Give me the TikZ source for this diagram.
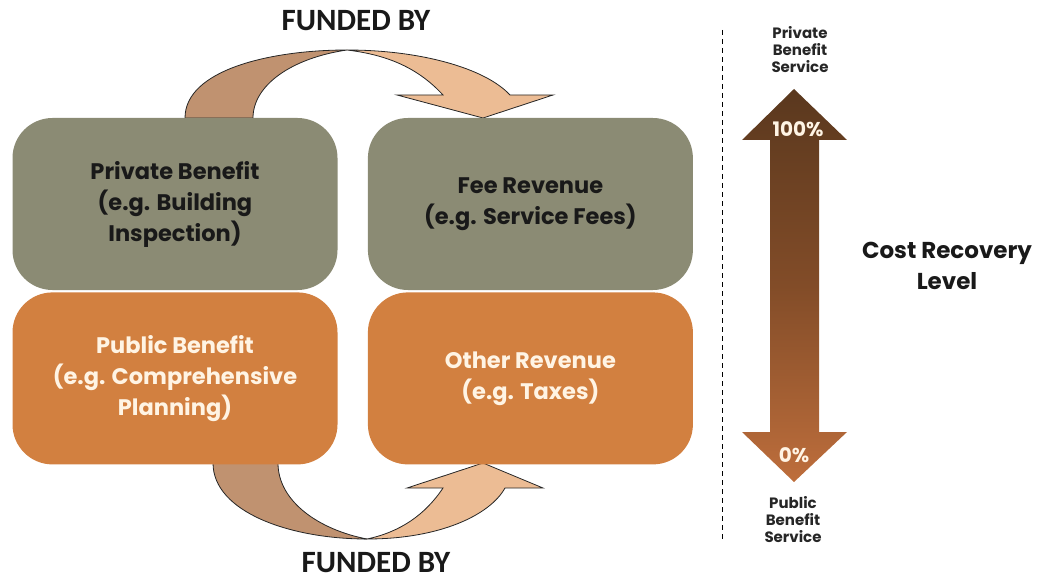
\documentclass[tikz,border=0pt]{standalone}
\usepackage{fontspec}
\setmainfont{Poppins}
\newfontfamily\headfont{Carlito}
\usetikzlibrary{positioning}

\definecolor{olivegray}{RGB}{139,139,116}
\definecolor{rustorange}{RGB}{210,128,64}
\definecolor{tandark}{RGB}{192,146,112}
\definecolor{tanlight}{RGB}{236,188,148}
\definecolor{darkbrown}{RGB}{90,56,30}
\definecolor{midbrown}{RGB}{130,76,40}
\definecolor{lightbrown}{RGB}{190,110,60}
\definecolor{cream}{RGB}{255,244,228}

\tikzset{
  benefit/.style={rounded corners=40pt, minimum width=325pt, minimum height=172pt, inner sep=0pt,
    align=center, font=\bfseries\fontsize{22.5}{31}\selectfont},
  privbox/.style={benefit, fill=olivegray, text=black!90},
  pubbox/.style={benefit, fill=rustorange, text=cream},
  bendarrow/.style={draw=black!85, line width=0.8pt},
  fundlabel/.style={inner sep=0pt, font=\headfont\bfseries\fontsize{31}{32}\selectfont, text=black!90},
  sidelabel/.style={align=center, font=\bfseries\fontsize{15}{17}\selectfont, text=black!85},
  pctlabel/.style={text=cream, font=\bfseries\fontsize{20}{22}\selectfont},
}

\begin{document}
\begin{tikzpicture}[x=1pt,y=-1pt]
    \useasboundingbox (0,0) rectangle (1040,580);

    % curved arrows behind the boxes
    \draw[bendarrow, fill=tandark] (185,118) .. controls (185,70) and (270,50) .. (347,50)
        .. controls (292,58) and (253,85) .. (253,118) -- cycle;
    \draw[bendarrow, fill=tanlight] (347,50) .. controls (420,50) and (485,68) .. (510,95)
        -- (553,95) -- (483,118) -- (397,95) -- (443,95)
        .. controls (418,68) and (388,55) .. (347,50) -- cycle;
    \draw[bendarrow, fill=tandark] (213,463) .. controls (213,512) and (290,539) .. (367,539)
        .. controls (320,530) and (278,502) .. (278,463) -- cycle;
    \draw[bendarrow, fill=tanlight] (367,539) .. controls (440,539) and (490,515) .. (505,488)
        -- (543,488) -- (483,463) -- (407,488) -- (443,488)
        .. controls (425,515) and (400,532) .. (367,539) -- cycle;

    % boxes
    \node[privbox] (priv) at (175,204) {Private Benefit\\(e.g. Building\\Inspection)};
    \node[pubbox, below=2pt of priv] (pub) {Public Benefit\\(e.g. Comprehensive\\Planning)};
    \node[privbox, right=30pt of priv] (fee) {Fee Revenue\\(e.g. Service Fees)};
    \node[pubbox, below=2pt of fee] (other) {Other Revenue\\(e.g. Taxes)};

    \node[fundlabel] (fundtop) at (356,21) {FUNDED BY};
    \node[fundlabel] (fundbot) at (376,563) {FUNDED BY};

    % cost recovery scale
    \draw[dashed, dash pattern=on 5pt off 4pt, line width=1pt] (722,30) -- (722,540);
    \shade[top color=darkbrown, bottom color=lightbrown, middle color=midbrown]
        (794,89) -- (847,140) -- (819,140) -- (819,432) -- (847,432) -- (794,482)
        -- (742,432) -- (770,432) -- (770,140) -- (742,140) -- cycle;
    \node[pctlabel] (full) at (798,129) {100\%};
    \node[pctlabel] (zero) at (794,455) {0\%};
    \node[sidelabel] (privsvc) at (800,50) {Private\\Benefit\\Service};
    \node[sidelabel] (pubsvc) at (793,520) {Public\\Benefit\\Service};
    \node[font=\bfseries\fontsize{23}{31}\selectfont, align=center, text=black!90] (costlvl) at (947,266) {Cost Recovery\\Level};
\end{tikzpicture}
\end{document}
